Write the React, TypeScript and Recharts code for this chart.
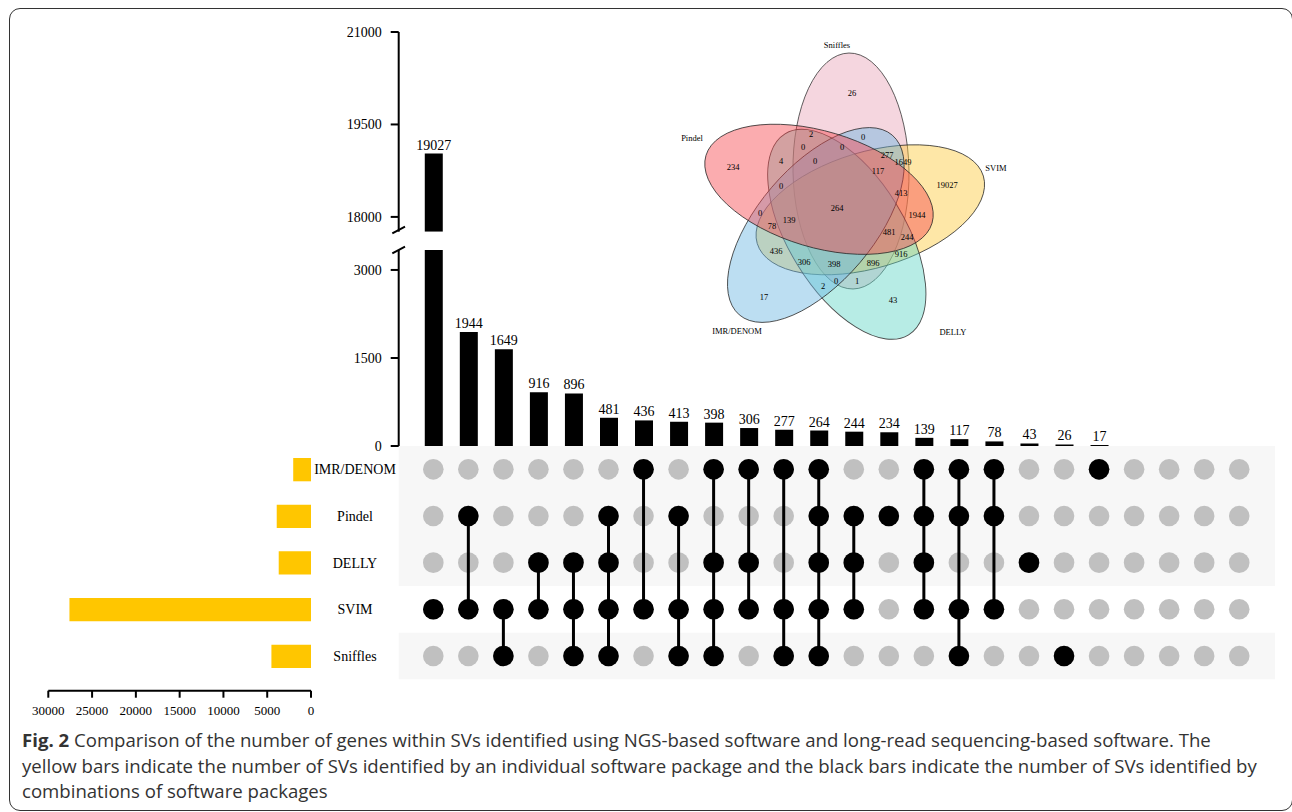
import React from "react";
import {
  BarChart, Bar, XAxis, YAxis, LabelList,
  ScatterChart, Scatter, ReferenceArea
} from "recharts";

const SETS = ["IMR/DENOM", "Pindel", "DELLY", "SVIM", "Sniffles"];
const SET_SIZES = [2032, 3914, 3687, 27585, 4521];

const COUNTS = [19027, 1944, 1649, 916, 896, 481, 436, 413, 398, 306, 277, 264, 244, 234, 139, 117, 78, 43, 26, 17, 0, 0, 0, 0];
const MEMBERS = [
  ["SVIM"],
  ["Pindel", "SVIM"],
  ["SVIM", "Sniffles"],
  ["DELLY", "SVIM"],
  ["DELLY", "SVIM", "Sniffles"],
  ["Pindel", "DELLY", "SVIM", "Sniffles"],
  ["IMR/DENOM", "SVIM"],
  ["Pindel", "SVIM", "Sniffles"],
  ["IMR/DENOM", "DELLY", "SVIM", "Sniffles"],
  ["IMR/DENOM", "DELLY", "SVIM"],
  ["IMR/DENOM", "SVIM", "Sniffles"],
  ["IMR/DENOM", "Pindel", "DELLY", "SVIM", "Sniffles"],
  ["Pindel", "DELLY", "SVIM"],
  ["Pindel"],
  ["IMR/DENOM", "Pindel", "DELLY", "SVIM"],
  ["IMR/DENOM", "Pindel", "SVIM", "Sniffles"],
  ["IMR/DENOM", "Pindel", "SVIM"],
  ["DELLY"],
  ["Sniffles"],
  ["IMR/DENOM"],
  [], [], [], [],
];

const HIGH_TICKS = [18000, 19500, 21000];
const LOW_TICKS = [0, 1500, 3000];
const SIZE_TICKS = [0, 5000, 10000, 15000, 20000, 25000, 30000];

// venn inset: region values
const VENN_VALUES = [26, 2, 0, 0, 0, 277, 1649, 234, 4, 0, 117, 19027, 0, 413, 264, 0, 139, 1944, 78, 481, 244, 436, 916, 306, 398, 896, 0, 1, 2, 17, 43];
const VENN_ORDER = ["Sniffles", "SVIM", "DELLY", "IMR/DENOM", "Pindel"];

// ---- layout (pixels) ----
const W = 1292;
const H = 812;
const SERIF = '"Liberation Serif", "Times New Roman", serif';
const COL0 = 433.3;
const COLW = 35.04;
const AXIS_X = 398.7;
const BAR_RIGHT = 1256.8;
const MATRIX_RIGHT = 1275;
const XMIN = -(COL0 - AXIS_X) / COLW;
const XMAX_BAR = XMIN + (BAR_RIGHT - AXIS_X) / COLW;
const XMAX_MATRIX = XMIN + (MATRIX_RIGHT - AXIS_X) / COLW;
const UP_TOP = 32, UP_BOTTOM = 231.7, UP_DOMAIN = [17760, 21000];
const LOW_TOP = 250, LOW_BOTTOM = 446, LOW_DOMAIN = [0, 3340];
const M_TOP = 446, M_BOTTOM = 679.3;
const SIZE_LEFT = 48.3, SIZE_RIGHT = 311, SIZE_AXIS_Y = 690.7;
const ROW_H = (M_BOTTOM - M_TOP) / 5;
const YW = 80;

const VENN_COLORS: Record<string, string> = {
  Sniffles: "#e9a3b9", SVIM: "#fcc93c", DELLY: "#5fd4c6", "IMR/DENOM": "#6bb6e3", Pindel: "#f7464e",
};
const VENN_ELLIPSES: Record<string, { cx: number; cy: number; rot: number }> = {
  Sniffles: { cx: 851, cy: 171, rot: 89 },
  SVIM: { cx: 870.3, cy: 209.8, rot: -16.6 },
  DELLY: { cx: 846.8, cy: 234.3, rot: 58.4 },
  "IMR/DENOM": { cx: 815.8, cy: 225, rot: -49.6 },
  Pindel: { cx: 819, cy: 189.3, rot: 16.7 },
};
const VENN_NAME_POS: Record<string, [number, number]> = {
  Sniffles: [837, 45], SVIM: [996, 168], DELLY: [953, 332], "IMR/DENOM": [737, 331], Pindel: [692, 138],
};
const VENN_VALUE_POS: [number, number][] = [
  [852, 93], [811, 134], [863, 137], [803, 147], [842, 147], [887, 155], [903, 162], [733, 167],
  [781, 161], [815, 161], [878, 171], [947, 185], [781, 186], [901, 193], [837, 208], [760, 213],
  [789, 220], [917, 215], [772, 226], [889, 232], [907, 237], [776, 251], [901, 254], [804, 262],
  [834, 264], [873, 263], [836, 281], [857, 281], [823, 286], [764, 297], [893, 300],
];

const barData = COUNTS.map((count, idx) => ({
  idx,
  count,
  up: count > LOW_DOMAIN[1] ? count : null,
}));
const sizeData = SET_SIZES.map((size, idx) => ({ idx, size }));
const gridCells = COUNTS.flatMap((_, x) => SETS.map((_, y) => ({ x, y })));
const memberCells = MEMBERS.map((names, x) =>
  names.map((n) => ({ x, y: SETS.indexOf(n) })).sort((a, b) => a.y - b.y)
);

const tickStyle = { fill: "#000", fontSize: 14, fontFamily: SERIF };
const axisStroke = { stroke: "#000", strokeWidth: 2 };

const dot = (fill: string) => (props: any) => (
  <circle cx={props.cx} cy={props.cy} r={10.3} fill={fill} />
);

const abs: React.CSSProperties = { position: "absolute", left: 0, top: 0 };

function CountBars() {
  return (
    <>
      <div style={abs}>
        <BarChart width={W} height={H} data={barData}
          margin={{ top: UP_TOP, right: W - BAR_RIGHT, bottom: H - UP_BOTTOM, left: AXIS_X - YW }}>
          <XAxis type="number" dataKey="idx" domain={[XMIN, XMAX_BAR]} allowDataOverflow hide />
          <YAxis type="number" domain={UP_DOMAIN} ticks={HIGH_TICKS} allowDataOverflow width={YW}
            tick={tickStyle} tickSize={8} tickMargin={9} axisLine={axisStroke} tickLine={axisStroke} />
          <Bar dataKey="up" barSize={18} fill="#000" isAnimationActive={false}>
            <LabelList dataKey="up" position="top" offset={4} fill="#000" fontSize={14} fontFamily={SERIF} />
          </Bar>
        </BarChart>
      </div>
      <div style={abs}>
        <BarChart width={W} height={H} data={barData}
          margin={{ top: LOW_TOP, right: W - BAR_RIGHT, bottom: H - LOW_BOTTOM, left: AXIS_X - YW }}>
          <XAxis type="number" dataKey="idx" domain={[XMIN, XMAX_BAR]} allowDataOverflow hide />
          <YAxis type="number" domain={LOW_DOMAIN} ticks={LOW_TICKS} allowDataOverflow width={YW}
            tick={tickStyle} tickSize={8} tickMargin={9} axisLine={axisStroke} tickLine={axisStroke} />
          <Bar dataKey="count" barSize={18} fill="#000" isAnimationActive={false}>
            <LabelList dataKey="count" position="top" offset={4} fill="#000" fontSize={14} fontFamily={SERIF}
              formatter={(v: any) => (!v || v > LOW_DOMAIN[1] ? "" : v)} />
          </Bar>
        </BarChart>
      </div>
      <svg width={W} height={H} style={abs}>
        <line x1={392.3} y1={233.3} x2={405} y2={226.7} stroke="#000" strokeWidth={2} />
        <line x1={392.3} y1={253.3} x2={405} y2={246.7} stroke="#000" strokeWidth={2} />
      </svg>
    </>
  );
}

function Matrix() {
  return (
    <div style={abs}>
      <ScatterChart width={W} height={H}
        margin={{ top: M_TOP, right: W - MATRIX_RIGHT, bottom: H - M_BOTTOM, left: AXIS_X }}>
        <XAxis type="number" dataKey="x" domain={[XMIN, XMAX_MATRIX]} hide />
        <YAxis type="number" dataKey="y" domain={[-0.5, 4.5]} reversed hide />
        <ReferenceArea x1={XMIN} x2={XMAX_MATRIX} y1={-0.5} y2={2.5} fill="#f7f7f7" fillOpacity={1} stroke="none" />
        <ReferenceArea x1={XMIN} x2={XMAX_MATRIX} y1={3.5} y2={4.5} fill="#f7f7f7" fillOpacity={1} stroke="none" />
        <Scatter data={gridCells} shape={dot("#c0c0c0")} isAnimationActive={false} />
        {memberCells.map((cells, i) =>
          cells.length ? (
            <Scatter key={i} data={cells} shape={dot("#000")} isAnimationActive={false}
              line={cells.length > 1 ? { stroke: "#000", strokeWidth: 3 } : false} lineType="joint" />
          ) : null
        )}
      </ScatterChart>
    </div>
  );
}

function SetSizes() {
  const yPad = (SIZE_AXIS_Y - M_BOTTOM) / ROW_H;
  return (
    <div style={abs}>
      <BarChart width={W} height={H} data={sizeData} layout="vertical"
        margin={{ top: M_TOP, right: W - SIZE_RIGHT - 88, bottom: H - SIZE_AXIS_Y - 30, left: SIZE_LEFT }}>
        <XAxis type="number" dataKey="size" domain={[0, 30000]} ticks={SIZE_TICKS} reversed height={30}
          tick={{ fill: "#000", fontSize: 13, fontFamily: SERIF }} tickSize={7} tickMargin={8}
          axisLine={axisStroke} tickLine={axisStroke} />
        <YAxis type="number" dataKey="idx" orientation="right" width={88} domain={[-0.5, 4.5 + yPad]}
          ticks={[0, 1, 2, 3, 4]} axisLine={false} tickLine={false} tickSize={0} tickMargin={0}
          tick={(p: any) => (
            <text x={p.x + 44} y={p.y} dy={5} textAnchor="middle" fill="#000" fontSize={14} fontFamily={SERIF}>
              {SETS[p.payload.value]}
            </text>
          )} />
        <Bar dataKey="size" barSize={23.3} fill="#ffc600" isAnimationActive={false} />
      </BarChart>
    </div>
  );
}

function Venn() {
  return (
    <svg width={W} height={H} style={abs}>
      {VENN_ORDER.map((name) => {
        const e = VENN_ELLIPSES[name];
        return (
          <ellipse key={name} cx={e.cx} cy={e.cy} rx={118} ry={58}
            transform={`rotate(${e.rot} ${e.cx} ${e.cy})`}
            fill={VENN_COLORS[name]} fillOpacity={0.45} stroke="#222" strokeOpacity={0.8} strokeWidth={0.9} />
        );
      })}
      {VENN_ORDER.map((name) => (
        <text key={name} x={VENN_NAME_POS[name][0]} y={VENN_NAME_POS[name][1]} dy={3}
          textAnchor="middle" fontSize={8.5} fontFamily={SERIF} fill="#000">{name}</text>
      ))}
      {VENN_VALUES.map((v, i) => (
        <text key={i} x={VENN_VALUE_POS[i][0]} y={VENN_VALUE_POS[i][1]} dy={3}
          textAnchor="middle" fontSize={8.5} fontFamily={SERIF} fill="#000">{v}</text>
      ))}
    </svg>
  );
}

export default function App() {
  return (
    <div style={{ position: "absolute", left: 0, top: 0, width: W, height: H, background: "#fff", overflow: "hidden" }}>
      <div style={{
        position: "absolute", left: 8.5, top: 7.5, width: 1284, height: 803,
        border: "1.5px solid #333", borderRadius: 11, boxSizing: "border-box",
      }} />
      <Matrix />
      <CountBars />
      <SetSizes />
      <Venn />
      <div style={{
        position: "absolute", left: 22, top: 727, fontFamily: '"Open Sans", sans-serif',
        fontSize: 18.6, lineHeight: "25.5px", color: "#333", whiteSpace: "nowrap",
      }}>
        <b>Fig. 2</b> Comparison of the number of genes within SVs identified using NGS-based software and long-read sequencing-based software. The<br />
        yellow bars indicate the number of SVs identified by an individual software package and the black bars indicate the number of SVs identified by<br />
        combinations of software packages
      </div>
    </div>
  );
}
